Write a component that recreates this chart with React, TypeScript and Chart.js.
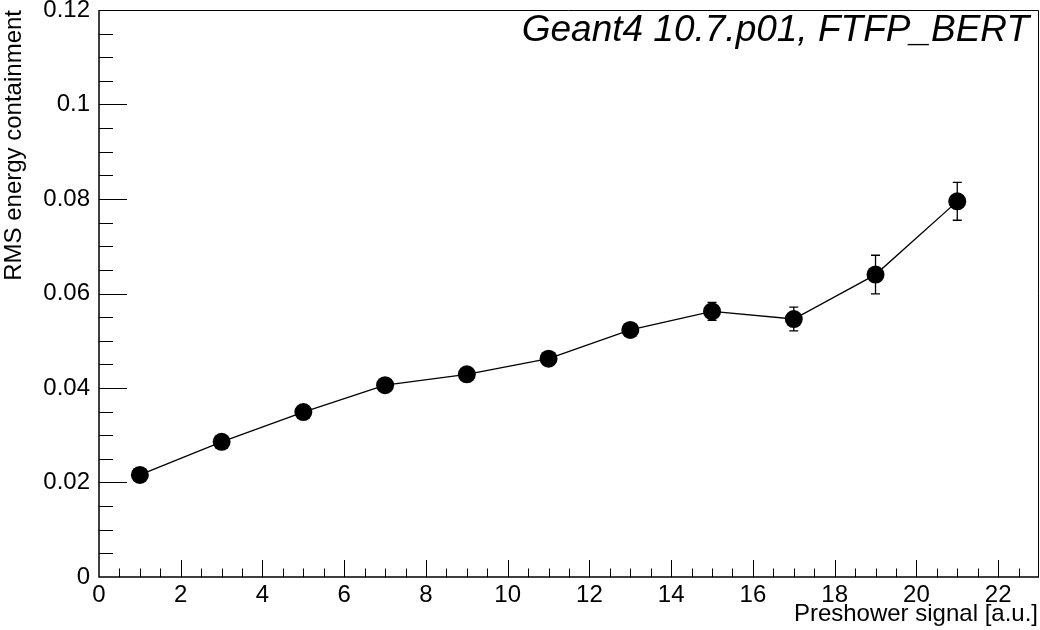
import React, { useEffect, useRef } from "react";
import { Chart, registerables } from "chart.js";

Chart.register(...registerables);

// ---- Data ----
const xValues = [1, 3, 5, 7, 9, 11, 13, 15, 17, 19, 21];
const rmsValues = [0.0216, 0.0286, 0.0349, 0.0406, 0.0429, 0.0462, 0.0523, 0.0562, 0.0546, 0.064, 0.0795];
const rmsErrors = [0.0006, 0.0007, 0.0008, 0.0008, 0.0009, 0.001, 0.0012, 0.0019, 0.0025, 0.0041, 0.004];

const xTickValues = [0, 2, 4, 6, 8, 10, 12, 14, 16, 18, 20, 22];
const xTickLabels = ["0", "2", "4", "6", "8", "10", "12", "14", "16", "18", "20", "22"];
const yTickValues = [0, 0.02, 0.04, 0.06, 0.08, 0.1, 0.12];
const yTickLabels = ["0", "0.02", "0.04", "0.06", "0.08", "0.1", "0.12"];
const xRange = [0, 23];
const yRange = [0, 0.12];
const xMinorStep = 0.5;
const yMinorStep = 0.005;

const plotTitle = "Geant4 10.7.p01, FTFP_BERT";
const xTitle = "Preshower signal [a.u.]";
const yTitle = "RMS energy containment";

const FONT = '"Liberation Sans", Arial, Helvetica, sans-serif';
// The line controller reserves (point radius) px on the right; the canvas is a bit
// wider than the visible window so that the plot frame reaches x = 1039.
const CANVAS_W = 1048;
const CANVAS_H = 630;

const errorBarPlugin = {
  id: "errorBars",
  beforeDatasetsDraw(chart: any) {
    const ctx = chart.ctx;
    const xs = chart.scales.x;
    const ys = chart.scales.y;
    ctx.save();
    ctx.strokeStyle = "#000";
    ctx.lineWidth = 1.3;
    const cap = 4.5;
    for (let i = 0; i < xValues.length; i++) {
      const px = xs.getPixelForValue(xValues[i]);
      const pTop = ys.getPixelForValue(rmsValues[i] + rmsErrors[i]);
      const pBot = ys.getPixelForValue(rmsValues[i] - rmsErrors[i]);
      ctx.beginPath();
      ctx.moveTo(px, pTop);
      ctx.lineTo(px, pBot);
      ctx.moveTo(px - cap, pTop);
      ctx.lineTo(px + cap, pTop);
      ctx.moveTo(px - cap, pBot);
      ctx.lineTo(px + cap, pBot);
      ctx.stroke();
    }
    ctx.restore();
  },
};

const framePlugin = {
  id: "rootFrame",
  afterDraw(chart: any) {
    const ctx = chart.ctx;
    const xs = chart.scales.x;
    const ys = chart.scales.y;
    const left = xs.getPixelForValue(xRange[0]);
    const right = xs.getPixelForValue(xRange[1]);
    const top = ys.getPixelForValue(yRange[1]);
    const bottom = ys.getPixelForValue(yRange[0]);
    ctx.save();
    ctx.strokeStyle = "#000";
    // frame
    ctx.lineWidth = 1;
    ctx.beginPath();
    ctx.moveTo(left, top + 0.5);
    ctx.lineTo(right - 0.5, top + 0.5);
    ctx.lineTo(right - 0.5, bottom);
    ctx.stroke();
    ctx.lineWidth = 1.5;
    ctx.beginPath();
    ctx.moveTo(left, top);
    ctx.lineTo(left, bottom);
    ctx.lineTo(right, bottom);
    ctx.stroke();
    // x ticks
    ctx.lineWidth = 1;
    const nx = Math.round((xRange[1] - xRange[0]) / xMinorStep);
    ctx.beginPath();
    for (let i = 1; i < nx; i++) {
      const v = xRange[0] + i * xMinorStep;
      const px = Math.round(xs.getPixelForValue(v)) + 0.5;
      const major = i % 4 === 0;
      ctx.moveTo(px, bottom);
      ctx.lineTo(px, bottom - (major ? 17 : 8.5));
    }
    ctx.stroke();
    // y ticks
    const ny = Math.round((yRange[1] - yRange[0]) / yMinorStep);
    ctx.beginPath();
    for (let i = 1; i < ny; i++) {
      const v = yRange[0] + i * yMinorStep;
      const py = Math.round(ys.getPixelForValue(v)) + 0.5;
      const major = i % 4 === 0;
      ctx.moveTo(left, py);
      ctx.lineTo(left + (major ? 28 : 14), py);
    }
    ctx.stroke();
    // titles
    ctx.fillStyle = "#000";
    ctx.font = `italic 37px ${FONT}`;
    ctx.textAlign = "right";
    ctx.textBaseline = "alphabetic";
    ctx.fillText(plotTitle, 1029, 41);
    ctx.font = `24px ${FONT}`;
    ctx.fillText(xTitle, 1038, 621);
    ctx.translate(21, 10);
    ctx.rotate(-Math.PI / 2);
    ctx.textAlign = "right";
    ctx.fillText(yTitle, 0, 0);
    ctx.restore();
  },
};

export default function App() {
  const canvasRef = useRef<HTMLCanvasElement | null>(null);

  useEffect(() => {
    const canvas = canvasRef.current;
    if (!canvas) return;
    const points = xValues.map((x, i) => ({ x, y: rmsValues[i] }));
    const chart = new Chart(canvas, {
      type: "line",
      data: {
        datasets: [
          {
            data: points,
            borderColor: "#000",
            borderWidth: 1.3,
            pointRadius: 9,
            pointBackgroundColor: "#000",
            pointBorderColor: "#000",
            pointBorderWidth: 0,
            fill: false,
            tension: 0,
            clip: false as any,
          },
        ],
      },
      options: {
        animation: false,
        responsive: false,
        devicePixelRatio: 1,
        layout: { padding: { left: 0, right: 0, top: 10, bottom: 0 } },
        plugins: { legend: { display: false }, title: { display: false }, tooltip: { enabled: false } },
        scales: {
          x: {
            type: "linear",
            min: xRange[0],
            max: xRange[1],
            grid: { display: false, drawTicks: false },
            border: { display: false },
            afterBuildTicks: (s: any) => {
              s.ticks = xTickValues.map((v) => ({ value: v }));
            },
            afterFit: (s: any) => {
              s.height = 53;
              s.paddingLeft = 0;
              s.paddingRight = 0;
              s.paddingTop = 0;
              s.paddingBottom = 0;
            },
            ticks: {
              autoSkip: false,
              maxRotation: 0,
              minRotation: 0,
              padding: 4,
              color: "#000",
              font: { family: FONT, size: 24 },
              callback: (_v: any, i: number) => xTickLabels[i],
            },
          },
          y: {
            type: "linear",
            min: yRange[0],
            max: yRange[1],
            grid: { display: false, drawTicks: false },
            border: { display: false },
            afterBuildTicks: (s: any) => {
              s.ticks = yTickValues.map((v) => ({ value: v }));
            },
            afterFit: (s: any) => {
              s.width = 99;
              s.paddingLeft = 0;
              s.paddingRight = 0;
              s.paddingTop = 0;
              s.paddingBottom = 0;
            },
            ticks: {
              autoSkip: false,
              padding: 9,
              color: "#000",
              font: { family: FONT, size: 24 },
              callback: (_v: any, i: number) => yTickLabels[i],
            },
          },
        },
      },
      plugins: [errorBarPlugin, framePlugin],
    });
    return () => chart.destroy();
  }, []);

  return (
    <div
      style={{
        position: "fixed",
        left: 0,
        top: 0,
        width: 1040,
        height: 630,
        overflow: "hidden",
        background: "#fff",
      }}
    >
      <canvas ref={canvasRef} width={CANVAS_W} height={CANVAS_H} style={{ display: "block" }} />
    </div>
  );
}
